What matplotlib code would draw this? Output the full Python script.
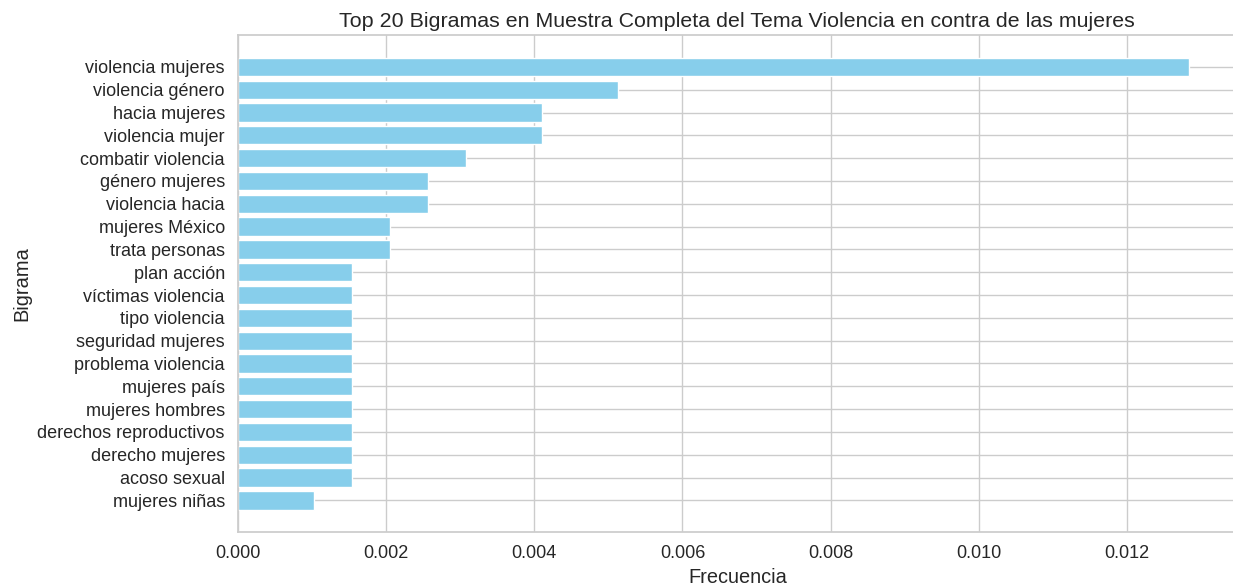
import matplotlib
matplotlib.use("Agg")
import matplotlib.pyplot as plt
import seaborn as sns

sns.set_theme(style="whitegrid")
plt.rcParams["font.family"] = ["Liberation Sans", "DejaVu Sans"]

bigramas = [
    "violencia mujeres", "violencia género", "hacia mujeres", "violencia mujer",
    "combatir violencia", "género mujeres", "violencia hacia", "mujeres México",
    "trata personas", "plan acción", "víctimas violencia", "tipo violencia",
    "seguridad mujeres", "problema violencia", "mujeres país", "mujeres hombres",
    "derechos reproductivos", "derecho mujeres", "acoso sexual", "mujeres niñas",
]
frecuencia = [
    0.01284, 0.005136, 0.004109, 0.004109, 0.003082, 0.002568, 0.002568, 0.002054,
    0.002054, 0.001541, 0.001541, 0.001541, 0.001541, 0.001541, 0.001541, 0.001541,
    0.001541, 0.001541, 0.001541, 0.001027,
]

fig, ax = plt.subplots(figsize=(12.33, 5.86), dpi=100)
ax.barh(bigramas, frecuencia, color="skyblue")
ax.invert_yaxis()
ax.set_xlabel("Frecuencia", fontsize=14.4)
ax.set_ylabel("Bigrama", fontsize=14.4)
ax.set_title("Top 20 Bigramas en Muestra Completa del Tema Violencia en contra de las mujeres",
             fontsize=15.4)
ax.tick_params(axis="both", labelsize=13)
ax.xaxis.set_major_formatter(matplotlib.ticker.FormatStrFormatter("%.3f"))

# el eje derecho queda recortado en la imagen original
fig.subplots_adjust(left=0.193, right=1.003, top=0.94, bottom=0.092)
fig.savefig("out.png", dpi=100)
